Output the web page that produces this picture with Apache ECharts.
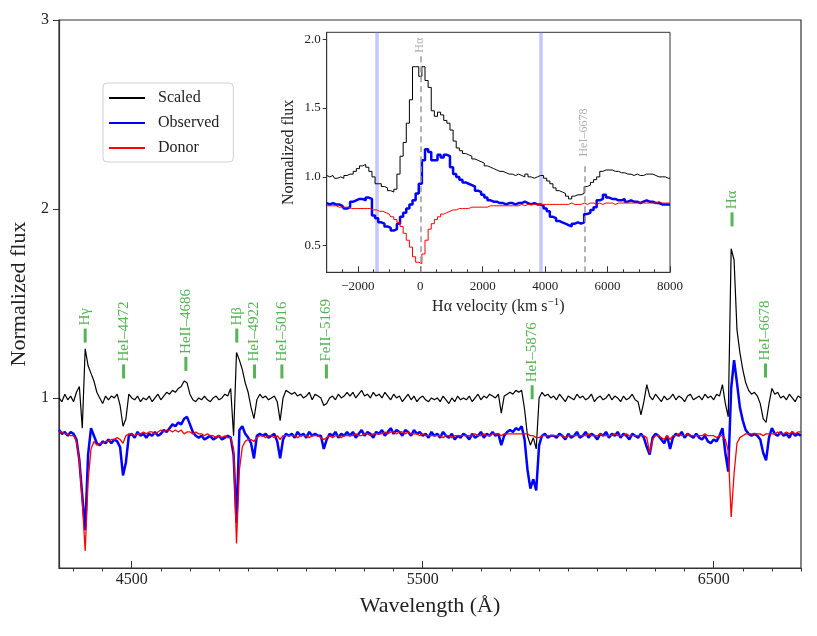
<!DOCTYPE html>
<html>
<head>
<meta charset="utf-8">
<title>Normalized spectrum</title>
<script src="https://cdn.jsdelivr.net/npm/echarts@6.0.0/dist/echarts.min.js"></script>
<style>
  html, body { margin: 0; padding: 0; background: #fff; }
  #chart { width: 817px; height: 636px; }
</style>
</head>
<body>
<div id="chart"></div>
<script>
const FONT = '"Liberation Serif", "DejaVu Serif", serif';

// main panel: one flux value every 10 A, starting at 4250 A
const WAVE_START = 4250;
const WAVE_STEP = 10;

const scaledFlux = [
  1.00, 0.98, 1.02, 0.99, 1.01, 0.98, 1.03, 1.06, 0.84, 1.26,
  1.17, 1.13, 1.09, 1.03, 1.00, 0.97, 1.01, 0.99, 1.01, 1.00,
  1.02, 0.96, 0.85, 0.89, 1.02, 1.00, 0.99, 1.01, 0.98, 1.00,
  0.99, 1.01, 0.98, 1.00, 1.02, 0.99, 1.01, 1.03, 1.02, 1.04,
  1.03, 1.05, 1.06, 1.09, 1.08, 1.02, 0.99, 0.98, 1.00, 0.99,
  1.01, 0.99, 0.98, 1.00, 1.01, 0.99, 1.00, 1.02, 1.01, 1.05,
  0.80, 1.24, 1.20, 1.15, 1.08, 1.03, 0.95, 0.89, 0.99, 1.02,
  1.00, 1.01, 0.99, 1.00, 1.01, 0.98, 0.88, 1.00, 1.04, 1.03,
  1.02, 1.03, 1.01, 1.02, 1.00, 1.01, 1.03, 0.99, 1.02, 1.01,
  1.00, 0.96, 0.97, 1.00, 1.01, 0.99, 1.02, 1.00, 1.01, 1.03,
  1.01, 1.03, 1.00, 1.02, 1.04, 1.01, 1.02, 1.00, 1.03, 1.01,
  1.02, 1.00, 1.03, 1.01, 0.99, 1.02, 1.00, 1.01, 0.98, 1.00,
  1.02, 0.99, 1.01, 0.98, 1.00, 1.01, 0.99, 0.98, 1.00, 0.99,
  1.00, 0.98, 1.01, 0.99, 0.97, 1.00, 0.98, 1.01, 0.99, 1.00,
  0.99, 1.01, 0.98, 1.00, 1.02, 0.99, 1.01, 1.00, 1.02, 1.01,
  1.00, 1.02, 0.92, 1.01, 1.02, 1.03, 1.02, 1.04, 1.03, 1.04,
  0.94, 0.80, 0.75, 0.79, 0.73, 1.00, 1.03, 1.01, 1.02, 1.00,
  1.01, 0.99, 1.02, 1.00, 0.98, 1.01, 1.00, 0.99, 1.02, 1.00,
  1.01, 0.99, 1.00, 1.02, 0.98, 1.00, 1.01, 0.99, 1.00, 1.02,
  0.99, 1.01, 1.00, 0.98, 1.01, 0.99, 1.00, 1.02, 0.99, 0.98,
  0.91, 0.98, 1.07, 1.01, 0.99, 1.02, 1.00, 0.98, 1.01, 0.99,
  1.00, 1.02, 0.99, 1.01, 1.00, 0.98, 1.01, 1.02, 0.99, 1.00,
  1.01, 0.99, 1.02, 1.00, 1.01, 0.99, 1.02, 1.01, 1.07, 0.97,
  0.90, 1.79, 1.73, 1.36, 1.24, 1.15, 1.08, 1.04, 1.02, 1.03,
  1.01, 0.97, 0.89, 0.87, 0.97, 1.05, 1.02, 1.03, 1.00, 1.01,
  0.99, 1.02, 1.00, 0.98, 1.01, 1.00,
];

const observedFlux = [
  0.83, 0.81, 0.82, 0.80, 0.82, 0.81, 0.78, 0.67, 0.48, 0.30,
  0.70, 0.84, 0.80, 0.76, 0.75, 0.77, 0.76, 0.78, 0.76, 0.78,
  0.77, 0.74, 0.59, 0.66, 0.80, 0.81, 0.79, 0.82, 0.80, 0.81,
  0.79, 0.81, 0.80, 0.82, 0.80, 0.81, 0.83, 0.82, 0.84, 0.86,
  0.85, 0.87, 0.86, 0.89, 0.90, 0.86, 0.82, 0.80, 0.79, 0.80,
  0.78, 0.79, 0.80, 0.78, 0.79, 0.80, 0.78, 0.79, 0.80, 0.79,
  0.70, 0.34, 0.83, 0.85, 0.81, 0.79, 0.76, 0.68, 0.80, 0.81,
  0.80, 0.81, 0.79, 0.80, 0.81, 0.77, 0.68, 0.78, 0.81, 0.80,
  0.81, 0.79, 0.82, 0.80, 0.81, 0.79, 0.82, 0.80, 0.81, 0.80,
  0.80, 0.73, 0.78, 0.81, 0.80, 0.82, 0.79, 0.81, 0.80, 0.82,
  0.80, 0.82, 0.79, 0.81, 0.83, 0.80, 0.82, 0.81, 0.79, 0.82,
  0.81, 0.83, 0.80, 0.82, 0.84, 0.81, 0.83, 0.82, 0.80, 0.83,
  0.82, 0.80, 0.83, 0.81, 0.82, 0.80, 0.81, 0.79, 0.82, 0.80,
  0.81, 0.79, 0.82, 0.80, 0.79, 0.81, 0.78, 0.80, 0.79, 0.81,
  0.80, 0.78, 0.81, 0.79, 0.80, 0.82, 0.79, 0.81, 0.80, 0.82,
  0.80, 0.81, 0.75, 0.80, 0.82, 0.83, 0.82, 0.84, 0.83, 0.85,
  0.78, 0.62, 0.52, 0.57, 0.51, 0.75, 0.80, 0.81, 0.79, 0.80,
  0.80, 0.79, 0.81, 0.80, 0.78, 0.81, 0.79, 0.80, 0.82, 0.79,
  0.80, 0.82, 0.79, 0.81, 0.80, 0.78, 0.81, 0.80, 0.82, 0.79,
  0.81, 0.80, 0.82, 0.79, 0.81, 0.80, 0.78, 0.81, 0.80, 0.79,
  0.81, 0.79, 0.74, 0.70, 0.79, 0.81, 0.80, 0.78, 0.76, 0.80,
  0.73, 0.79, 0.81, 0.80, 0.82, 0.79, 0.81, 0.80, 0.79, 0.81,
  0.79, 0.78, 0.80, 0.77, 0.76, 0.78, 0.77, 0.80, 0.84, 0.71,
  0.61, 1.05, 1.20, 1.08, 0.95, 0.88, 0.83, 0.81, 0.80, 0.81,
  0.80, 0.78, 0.71, 0.67, 0.79, 0.84, 0.81, 0.80, 0.82, 0.80,
  0.81, 0.79, 0.82, 0.80, 0.81, 0.80,
];

const donorFlux = [
  0.82, 0.82, 0.81, 0.81, 0.80, 0.80, 0.77, 0.67, 0.45, 0.19,
  0.56, 0.73, 0.77, 0.75, 0.76, 0.76, 0.77, 0.77, 0.78, 0.78,
  0.79, 0.78, 0.76, 0.80, 0.81, 0.81, 0.80, 0.81, 0.81, 0.82,
  0.81, 0.82, 0.82, 0.81, 0.82, 0.83, 0.82, 0.83, 0.83, 0.82,
  0.83, 0.82, 0.83, 0.81, 0.82, 0.82, 0.81, 0.82, 0.81, 0.81,
  0.80, 0.81, 0.80, 0.80, 0.79, 0.80, 0.79, 0.80, 0.79, 0.79,
  0.73, 0.23, 0.62, 0.74, 0.77, 0.78, 0.78, 0.77, 0.79, 0.80,
  0.80, 0.79, 0.80, 0.80, 0.79, 0.80, 0.78, 0.80, 0.80, 0.80,
  0.80, 0.80, 0.79, 0.80, 0.80, 0.80, 0.79, 0.80, 0.80, 0.80,
  0.79, 0.78, 0.79, 0.80, 0.79, 0.80, 0.80, 0.79, 0.80, 0.80,
  0.80, 0.80, 0.81, 0.80, 0.80, 0.81, 0.81, 0.80, 0.81, 0.81,
  0.81, 0.81, 0.82, 0.81, 0.82, 0.82, 0.81, 0.82, 0.82, 0.81,
  0.82, 0.81, 0.81, 0.81, 0.80, 0.81, 0.80, 0.80, 0.80, 0.80,
  0.80, 0.80, 0.79, 0.80, 0.80, 0.79, 0.80, 0.80, 0.80, 0.80,
  0.80, 0.80, 0.80, 0.81, 0.80, 0.80, 0.81, 0.80, 0.80, 0.81,
  0.81, 0.81, 0.80, 0.81, 0.81, 0.81, 0.81, 0.81, 0.81, 0.81,
  0.81, 0.81, 0.80, 0.80, 0.79, 0.79, 0.80, 0.80, 0.80, 0.80,
  0.80, 0.80, 0.80, 0.80, 0.79, 0.80, 0.80, 0.80, 0.80, 0.80,
  0.80, 0.80, 0.81, 0.80, 0.80, 0.80, 0.81, 0.80, 0.80, 0.80,
  0.80, 0.81, 0.80, 0.80, 0.80, 0.81, 0.80, 0.80, 0.80, 0.80,
  0.80, 0.80, 0.79, 0.71, 0.78, 0.80, 0.80, 0.79, 0.78, 0.80,
  0.78, 0.80, 0.80, 0.81, 0.80, 0.80, 0.81, 0.80, 0.80, 0.80,
  0.80, 0.80, 0.81, 0.80, 0.80, 0.80, 0.79, 0.80, 0.80, 0.78,
  0.72, 0.37, 0.60, 0.76, 0.79, 0.80, 0.81, 0.81, 0.81, 0.81,
  0.81, 0.81, 0.80, 0.81, 0.81, 0.81, 0.81, 0.82, 0.81, 0.81,
  0.82, 0.81, 0.82, 0.81, 0.82, 0.82,
];

// inset: one value every 100 km/s, starting at -3000 km/s
const VEL_START = -3000;
const VEL_STEP = 100;

const insetScaled = [
  1.01, 1.00, 1.01, 0.99, 1.00, 0.99, 1.01, 1.02, 1.02, 1.04,
  1.06, 1.08, 1.09, 1.07, 1.04, 1.00, 0.95, 0.95, 0.93, 0.92,
  0.90, 0.89, 0.91, 1.02, 1.15, 1.25, 1.39, 1.56, 1.80, 1.80,
  1.73, 1.80, 1.70, 1.65, 1.48, 1.44, 1.47, 1.45, 1.41, 1.39,
  1.34, 1.26, 1.21, 1.19, 1.17, 1.16, 1.15, 1.13, 1.12, 1.11,
  1.10, 1.08, 1.07, 1.06, 1.05, 1.04, 1.04, 1.03, 1.02, 1.02,
  1.01, 1.02, 1.01, 1.00, 1.02, 1.00, 0.99, 1.00, 1.01, 1.01,
  0.99, 0.97, 0.95, 0.92, 0.90, 0.89, 0.88, 0.86, 0.84, 0.86,
  0.87, 0.87, 0.88, 0.93, 0.94, 0.96, 0.98, 1.00, 1.04, 1.05,
  1.05, 1.05, 1.04, 1.04, 1.03, 1.03, 1.02, 1.02, 1.01, 1.02,
  1.01, 1.01, 1.02, 1.02, 1.02, 1.01, 1.00, 1.00, 1.00, 0.99,
  0.99,
];

const insetObserved = [
  0.81, 0.80, 0.81, 0.80, 0.80, 0.79, 0.77, 0.78, 0.82, 0.83,
  0.84, 0.84, 0.83, 0.85, 0.84, 0.72, 0.70, 0.67, 0.66, 0.64,
  0.63, 0.61, 0.62, 0.66, 0.71, 0.74, 0.77, 0.80, 0.83, 0.88,
  0.95, 1.12, 1.20, 1.18, 1.12, 1.12, 1.16, 1.14, 1.16, 1.15,
  1.07, 1.02, 1.00, 0.98, 0.96, 0.95, 0.94, 0.93, 0.90, 0.89,
  0.87, 0.85, 0.83, 0.82, 0.82, 0.81, 0.81, 0.80, 0.81, 0.81,
  0.80, 0.81, 0.81, 0.82, 0.81, 0.80, 0.81, 0.80, 0.80, 0.79,
  0.77, 0.75, 0.71, 0.70, 0.68, 0.67, 0.66, 0.65, 0.64, 0.66,
  0.67, 0.66, 0.67, 0.73, 0.74, 0.76, 0.78, 0.83, 0.84, 0.87,
  0.85, 0.84, 0.84, 0.83, 0.83, 0.84, 0.82, 0.83, 0.82, 0.82,
  0.81, 0.82, 0.83, 0.82, 0.82, 0.81, 0.81, 0.80, 0.80, 0.80,
  0.80,
];

const insetDonor = [
  0.79, 0.79, 0.79, 0.79, 0.78, 0.78, 0.78, 0.78, 0.77, 0.77,
  0.77, 0.77, 0.77, 0.77, 0.77, 0.76, 0.76, 0.75, 0.75, 0.74,
  0.73, 0.71, 0.69, 0.67, 0.64, 0.59, 0.54, 0.49, 0.42, 0.38,
  0.37, 0.44, 0.54, 0.62, 0.66, 0.69, 0.71, 0.73, 0.74, 0.75,
  0.76, 0.76, 0.77, 0.77, 0.77, 0.77, 0.78, 0.78, 0.78, 0.78,
  0.78, 0.78, 0.79, 0.79, 0.79, 0.79, 0.79, 0.79, 0.79, 0.79,
  0.79, 0.79, 0.80, 0.79, 0.80, 0.80, 0.80, 0.80, 0.80, 0.80,
  0.80, 0.80, 0.80, 0.80, 0.80, 0.80, 0.80, 0.80, 0.81, 0.80,
  0.80, 0.80, 0.81, 0.80, 0.81, 0.81, 0.80, 0.81, 0.80, 0.81,
  0.81, 0.81, 0.80, 0.81, 0.81, 0.81, 0.81, 0.81, 0.81, 0.81,
  0.81, 0.81, 0.81, 0.81, 0.81, 0.81, 0.82, 0.81, 0.81, 0.81,
  0.81,
];

// line identifications in the main panel
const lineNames = ["Hγ", "HeI–4472", "HeII–4686", "Hβ", "HeI–4922", "HeI–5016", "FeII–5169", "HeI–5876", "Hα", "HeI–6678"];
const lineWavelengths = [4340, 4472, 4686, 4861, 4922, 5016, 5169, 5876, 6563, 6678];
const lineMarkFlux = [1.33, 1.14, 1.18, 1.33, 1.14, 1.14, 1.14, 1.03, 1.945, 1.145];

// inset markers
const insetBands = [-1400, 3860];
const insetLineNames = ["Hα", "HeI–6678"];
const insetLineVelocity = [0, 5254];
const insetDashTop = [1.884, 1.086];
const insetLabelFlux = [1.898, 1.144];

const mainMajorTicks = [4500, 5500, 6500];
const mainMinorTicks = [4300, 4400, 4600, 4700, 4800, 4900, 5000, 5100, 5200, 5300, 5400,
  5600, 5700, 5800, 5900, 6000, 6100, 6200, 6300, 6400, 6600, 6700, 6800];
const mainYTicks = [1, 2, 3];
const insetMajorTicks = [-2000, 0, 2000, 4000, 6000, 8000];
const insetMinorTicks = [-2500, -1500, -1000, -500, 500, 1000, 1500, 2500, 3000, 3500,
  4500, 5000, 5500, 6500, 7000, 7500];
const insetYTicks = [0.5, 1.0, 1.5, 2.0];

const INSET_YMIN = 0.307;
const INSET_YMAX = 2.05;

const wavelength = scaledFlux.map((_, i) => WAVE_START + WAVE_STEP * i);
const velocity = insetScaled.map((_, i) => VEL_START + VEL_STEP * i);
const toPoints = (xs, ys) => xs.map((x, i) => [x, ys[i]]);

const AXIS_COLOR = "#333";
const TEXT_COLOR = "#222";
const GREEN = "#2ca02c";
const GREY = "#9a9a9a";

const minusLabel = (v) => (v < 0 ? "\u2212" + Math.abs(v) : String(v));

const chart = echarts.init(document.getElementById("chart"), null, { renderer: "canvas" });

chart.setOption({
  animation: false,
  backgroundColor: "#fff",
  textStyle: { fontFamily: FONT, color: TEXT_COLOR },
  legend: {
    data: ["Scaled", "Observed", "Donor"],
    orient: "vertical",
    left: 103,
    top: 83,
    selectedMode: false,
    icon: "rect",
    itemWidth: 36,
    itemHeight: 2,
    itemGap: 9,
    padding: [7, 14, 6, 6],
    backgroundColor: "#fff",
    borderColor: "#d0d0d0",
    borderWidth: 1,
    borderRadius: 4,
    textStyle: { fontFamily: FONT, fontSize: 16, color: TEXT_COLOR, padding: [0, 0, 0, 8] },
  },
  grid: [
    { left: 59, top: 20, right: 16, bottom: 68, show: true, borderColor: AXIS_COLOR, borderWidth: 1.2 },
    {
      left: 326.7, top: 32.3, width: 343.3, height: 240, show: true, z: 10,
      backgroundColor: "#fff", borderColor: AXIS_COLOR, borderWidth: 1,
    },
  ],
  xAxis: [
    {
      type: "value", gridIndex: 0, min: 4250, max: 6800,
      name: "Wavelength (Å)", nameLocation: "middle", nameGap: 27,
      nameTextStyle: { fontFamily: FONT, fontSize: 22, color: TEXT_COLOR },
      axisLine: { show: true, onZero: false, lineStyle: { color: AXIS_COLOR, width: 1.2 } },
      axisTick: { show: true, inside: true, length: 7, customValues: mainMajorTicks, lineStyle: { color: AXIS_COLOR } },
      axisLabel: {
        customValues: mainMajorTicks, formatter: (v) => String(v),
        fontFamily: FONT, fontSize: 16, color: TEXT_COLOR, margin: 4,
      },
      splitLine: { show: false },
    },
    {
      type: "value", gridIndex: 0, min: 4250, max: 6800, position: "bottom",
      axisLine: { show: false, onZero: false },
      axisTick: { show: true, length: 3.5, customValues: mainMinorTicks, lineStyle: { color: AXIS_COLOR } },
      axisLabel: { show: false },
      splitLine: { show: false },
    },
    {
      type: "value", gridIndex: 1, min: -3000, max: 8000, z: 11,
      name: "Hα velocity (km s{sup|\u22121})", nameLocation: "middle", nameGap: 24,
      nameTextStyle: {
        fontFamily: FONT, fontSize: 16, color: TEXT_COLOR,
        rich: { sup: { fontFamily: FONT, fontSize: 11, color: TEXT_COLOR, padding: [0, 0, 9, 0] } },
      },
      axisLine: { show: true, onZero: false, lineStyle: { color: AXIS_COLOR, width: 1 } },
      axisTick: { show: true, inside: true, length: 6, customValues: insetMajorTicks, lineStyle: { color: AXIS_COLOR } },
      axisLabel: {
        customValues: insetMajorTicks, formatter: minusLabel,
        fontFamily: FONT, fontSize: 13, color: TEXT_COLOR, margin: 8,
      },
      splitLine: { show: false },
    },
    {
      type: "value", gridIndex: 1, min: -3000, max: 8000, position: "bottom", z: 11,
      axisLine: { show: false, onZero: false },
      axisTick: { show: true, inside: true, length: 3, customValues: insetMinorTicks, lineStyle: { color: AXIS_COLOR } },
      axisLabel: { show: false },
      splitLine: { show: false },
    },
  ],
  yAxis: [
    {
      type: "value", gridIndex: 0, min: 0.1, max: 3,
      name: "Normalized flux", nameLocation: "middle", nameGap: 24,
      nameTextStyle: { fontFamily: FONT, fontSize: 22, color: TEXT_COLOR },
      axisLine: { show: true, onZero: false, lineStyle: { color: AXIS_COLOR, width: 1.2 } },
      axisTick: { show: true, length: 6, customValues: mainYTicks, lineStyle: { color: AXIS_COLOR } },
      axisLabel: { customValues: mainYTicks, fontFamily: FONT, fontSize: 16, color: TEXT_COLOR, margin: 10 },
      splitLine: { show: false },
    },
    {
      type: "value", gridIndex: 1, min: INSET_YMIN, max: INSET_YMAX, z: 11,
      name: "Normalized flux", nameLocation: "middle", nameGap: 30,
      nameTextStyle: { fontFamily: FONT, fontSize: 16, color: TEXT_COLOR },
      axisLine: { show: true, onZero: false, lineStyle: { color: AXIS_COLOR, width: 1 } },
      axisTick: { show: true, length: 4, customValues: insetYTicks, lineStyle: { color: AXIS_COLOR } },
      axisLabel: {
        customValues: insetYTicks, formatter: (v) => v.toFixed(1),
        fontFamily: FONT, fontSize: 13, color: TEXT_COLOR, margin: 6,
      },
      splitLine: { show: false },
    },
  ],
  series: [
    {
      name: "Scaled", type: "line", xAxisIndex: 0, yAxisIndex: 0,
      data: toPoints(wavelength, scaledFlux), showSymbol: false, z: 2,
      lineStyle: { color: "#000", width: 1.2 }, itemStyle: { color: "#000" },
    },
    {
      name: "Observed", type: "line", xAxisIndex: 0, yAxisIndex: 0,
      data: toPoints(wavelength, observedFlux), showSymbol: false, z: 3,
      lineStyle: { color: "#0000ff", width: 2.5 }, itemStyle: { color: "#0000ff" },
    },
    {
      name: "Donor", type: "line", xAxisIndex: 0, yAxisIndex: 0,
      data: toPoints(wavelength, donorFlux), showSymbol: false, z: 4,
      lineStyle: { color: "#ff0000", width: 1.3 }, itemStyle: { color: "#ff0000" },
    },
    {
      name: "lines", type: "scatter", xAxisIndex: 0, yAxisIndex: 0, z: 5,
      data: lineWavelengths.map((w, i) => [w, lineMarkFlux[i], lineNames[i]]),
      symbol: "rect", symbolSize: [3, 14],
      itemStyle: { color: GREEN },
      label: {
        show: true, position: "top", distance: 3, rotate: 90,
        align: "left", verticalAlign: "middle",
        formatter: (p) => p.data[2],
        fontFamily: FONT, fontSize: 15, color: GREEN,
      },
    },
    // inset: transparent carrier for the velocity bands
    {
      name: "bands", type: "line", xAxisIndex: 2, yAxisIndex: 1, z: 11,
      data: toPoints(velocity, insetDonor), showSymbol: false,
      lineStyle: { opacity: 0 }, silent: true,
      markLine: {
        z: 11, silent: true, symbol: ["none", "none"], label: { show: false },
        lineStyle: { color: "rgba(120,120,255,0.42)", width: 3.5, type: "solid" },
        data: insetBands.map((v) => ({ xAxis: v })),
      },
    },
    {
      name: "Scaled", type: "line", xAxisIndex: 2, yAxisIndex: 1, step: "middle",
      data: toPoints(velocity, insetScaled), showSymbol: false, z: 12,
      lineStyle: { color: "#000", width: 1 }, itemStyle: { color: "#000" },
    },
    {
      name: "Observed", type: "line", xAxisIndex: 2, yAxisIndex: 1, step: "middle",
      data: toPoints(velocity, insetObserved), showSymbol: false, z: 13,
      lineStyle: { color: "#0000ff", width: 2.5 }, itemStyle: { color: "#0000ff" },
    },
    {
      name: "Donor", type: "line", xAxisIndex: 2, yAxisIndex: 1, step: "middle",
      data: toPoints(velocity, insetDonor), showSymbol: false, z: 14,
      lineStyle: { color: "#ff0000", width: 1 }, itemStyle: { color: "#ff0000" },
    },
    // inset: transparent carrier for the dashed line markers
    {
      name: "dashes", type: "line", xAxisIndex: 2, yAxisIndex: 1, z: 15,
      data: toPoints(velocity, insetDonor), showSymbol: false,
      lineStyle: { opacity: 0 }, silent: true,
      markLine: {
        z: 15, silent: true, symbol: ["none", "none"], label: { show: false },
        lineStyle: { color: GREY, width: 1.5, type: [6, 4] },
        data: insetLineVelocity.map((v, i) => [
          { coord: [v, INSET_YMIN] },
          { coord: [v, insetDashTop[i]] },
        ]),
      },
    },
    {
      name: "inset lines", type: "scatter", xAxisIndex: 2, yAxisIndex: 1, z: 15,
      data: insetLineVelocity.map((v, i) => [v, insetLabelFlux[i], insetLineNames[i]]),
      symbolSize: 1, itemStyle: { color: "transparent" },
      label: {
        show: true, position: "top", distance: 0, rotate: 90,
        align: "left", verticalAlign: "middle",
        formatter: (p) => p.data[2],
        fontFamily: FONT, fontSize: 12, color: GREY,
      },
    },
  ],
});
</script>
</body>
</html>
